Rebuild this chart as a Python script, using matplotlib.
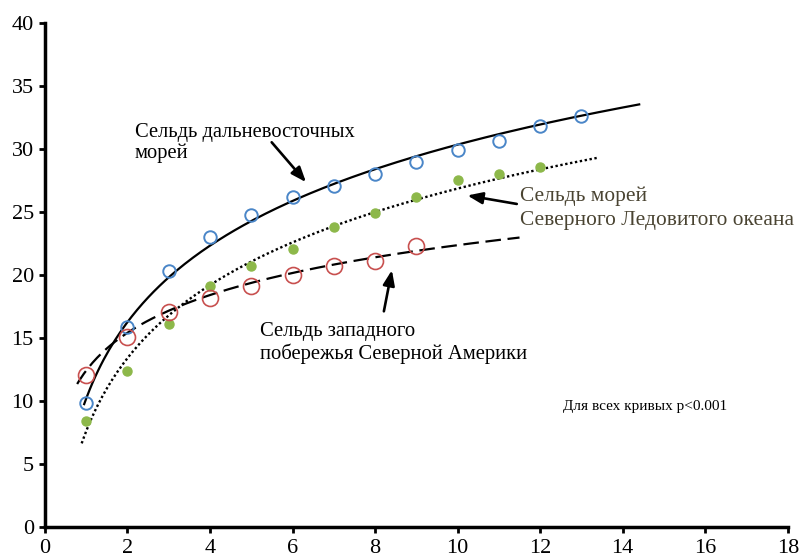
import numpy as np
import matplotlib.pyplot as plt

# Mean length by age for three herring groups
age = [1, 2, 3, 4, 5, 6, 7, 8, 9, 10, 11, 12, 13]
far_east = [9.8, 15.9, 20.3, 23.0, 24.8, 26.2, 27.1, 28.0, 29.0, 29.9, 30.6, 31.8, 32.6]
arctic = [8.4, 12.4, 16.1, 19.1, 20.7, 22.1, 23.8, 24.9, 26.2, 27.5, 28.0, 28.6]
west_coast = [12.1, 15.1, 17.1, 18.2, 19.1, 20.0, 20.7, 21.1, 22.3]

# log trend lines y = a + b*ln(x): (a, b, x_start, x_end)
fit_far_east = (10.2, 8.75, 0.95, 14.4)
fit_arctic = (7.61, 8.36, 0.89, 13.4)
fit_west = (12.42, 4.32, 0.78, 11.5)

plt.rcParams['font.family'] = ['Liberation Serif', 'DejaVu Serif']

fig = plt.figure(figsize=(8.03, 5.58), dpi=100)
ax = fig.add_axes([0.056, 0.0556, 0.925, 0.9032])


def trend(fit):
    a, b, x0, x1 = fit
    xs = np.linspace(x0, x1, 200)
    return xs, a + b * np.log(xs)


xs, ys = trend(fit_far_east)
ax.plot(xs, ys, color='black', lw=1.6, zorder=2)
xs, ys = trend(fit_arctic)
ax.plot(xs, ys, color='black', lw=1.7, linestyle=(0, (1, 1.1)), zorder=2)
xs, ys = trend(fit_west)
ax.plot(xs, ys, color='black', lw=1.6, linestyle=(0, (7, 3)), zorder=2)

ax.plot(age[:len(far_east)], far_east, 'o', mfc='none', mec='#4A86C8', mew=1.4, ms=9, zorder=3)
ax.plot(age[:len(arctic)], arctic, 'o', color='#8DB84A', ms=6.5, zorder=3)
ax.plot(age[:len(west_coast)], west_coast, 'o', mfc='none', mec='#C8504F', mew=1.2, ms=11.5, zorder=3)

ax.set_xlim(0, 18)
ax.set_ylim(0, 40)
ax.set_xticks(range(0, 19, 2))
ax.set_yticks(range(0, 41, 5))
for s in ['top', 'right']:
    ax.spines[s].set_visible(False)
for s in ['left', 'bottom']:
    ax.spines[s].set_linewidth(2.5)
ax.tick_params(length=4, width=2, labelsize=16)
ax.tick_params(axis='x', pad=5)
ax.tick_params(axis='y', pad=4)

arrow = dict(arrowstyle='-|>,head_length=0.9,head_width=0.35', color='black', lw=1.9)

ax.text(2.18, 30.5, 'Сельдь дальневосточных\nморей', fontsize=14.8,
        va='center', ha='left', linespacing=1.1)
ax.annotate('', xy=(6.37, 27.2), xytext=(5.45, 30.7), arrowprops=arrow)

ax.text(11.5, 25.3, 'Сельдь морей\nСеверного Ледовитого океана', fontsize=15.4,
        va='center', ha='left', color='#4A4432', linespacing=1.3)
ax.annotate('', xy=(10.17, 26.35), xytext=(11.5, 25.6), arrowprops=arrow)

ax.text(5.2, 14.6, 'Сельдь западного\nпобережья Северной Америки', fontsize=14.9,
        va='center', ha='left', linespacing=1.15)
ax.annotate('', xy=(8.42, 20.6), xytext=(8.2, 16.9), arrowprops=arrow)

ax.text(12.55, 9.6, 'Для всех кривых p<0.001', fontsize=11, va='center', ha='left')

fig.savefig('out.png', dpi=100)
